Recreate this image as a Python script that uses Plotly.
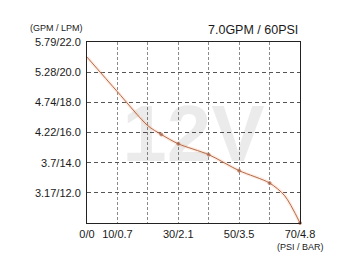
import plotly.graph_objects as go

# Data
psi = [0, 10, 20, 24.4, 30, 40, 50, 60, 65, 70]
lpm = [21.0, 18.7, 16.45, 15.87, 15.25, 14.53, 13.47, 12.65, 11.8, 10.0]
marker_sizes = [0, 0, 0, 3, 3, 3, 3, 3, 0, 3]

x_tick_vals = [0, 10, 20, 30, 40, 50, 60, 70]
x_tick_text = ["0/0", "10/0.7", "", "30/2.1", "", "50/3.5", "", "70/4.8"]
y_tick_vals = [12, 14, 16, 18, 20, 22]
y_tick_text = ["3.17/12.0", "3.7/14.0", "4.22/16.0", "4.74/18.0", "5.28/20.0", "5.79/22.0"]

title_text = "7.0GPM / 60PSI"
y_unit_text = "(GPM / LPM)"
x_unit_text = "(PSI / BAR)"
watermark = "12V"

FONT = "Liberation Sans, Arial, sans-serif"

fig = go.Figure()

# watermark (translucent so gridlines show through)
fig.add_trace(go.Scatter(
    x=[35], y=[15.45], mode="text", text=[f"<b>{watermark}</b>"],
    textposition="middle center",
    textfont=dict(family=FONT, size=80, color="rgba(0,0,0,0.08)"),
    hoverinfo="skip", showlegend=False, cliponaxis=False,
))

# soft halo of the curve
fig.add_trace(go.Scatter(
    x=psi, y=lpm, mode="lines",
    line=dict(color="rgba(245,170,125,0.22)", width=3.5, shape="spline", smoothing=0.8),
    hoverinfo="skip", showlegend=False,
))

# main curve
fig.add_trace(go.Scatter(
    x=psi, y=lpm, mode="lines+markers",
    line=dict(color="#b36a4c", width=1, shape="spline", smoothing=0.8),
    marker=dict(color="#9a5a40", size=marker_sizes),
    showlegend=False, cliponaxis=False,
))

fig.update_layout(
    width=354, height=275,
    margin=dict(l=87, r=54, t=42, b=52),
    paper_bgcolor="white", plot_bgcolor="white",
    font=dict(family=FONT, size=11, color="#1a1a1a"),
    xaxis=dict(
        range=[0, 70], tickmode="array", tickvals=x_tick_vals, ticktext=x_tick_text,
        showgrid=True, gridcolor="#8a8a8a", gridwidth=1, griddash="3px,2px",
        showline=True, linecolor="#222", linewidth=1, mirror=True,
        ticks="outside", ticklen=1, tickcolor="rgba(0,0,0,0)",
        zeroline=False, tickfont=dict(size=11, color="#1a1a1a"),
    ),
    yaxis=dict(
        range=[10, 22], tickmode="array", tickvals=y_tick_vals, ticktext=y_tick_text,
        showgrid=True, gridcolor="#555", gridwidth=1, griddash="4px,3px",
        showline=True, linecolor="#222", linewidth=1, mirror=True,
        ticks="outside", ticklen=3, tickcolor="rgba(0,0,0,0)",
        zeroline=False, tickfont=dict(size=11, color="#1a1a1a"),
    ),
    annotations=[
        dict(text=title_text, xref="paper", yref="paper", x=1, y=1,
             xanchor="right", yanchor="bottom", yshift=3, showarrow=False,
             font=dict(family=FONT, size=12.5, color="#1a1a1a")),
        dict(text=y_unit_text, xref="paper", yref="paper", x=0, y=1,
             xanchor="right", yanchor="bottom", xshift=-2, yshift=7, showarrow=False,
             font=dict(family=FONT, size=9, color="#1a1a1a")),
        dict(text=x_unit_text, xref="paper", yref="paper", x=1, y=0,
             xanchor="center", yanchor="top", yshift=-17, showarrow=False,
             font=dict(family=FONT, size=9, color="#1a1a1a")),
    ],
)

fig.write_html("out.html")
